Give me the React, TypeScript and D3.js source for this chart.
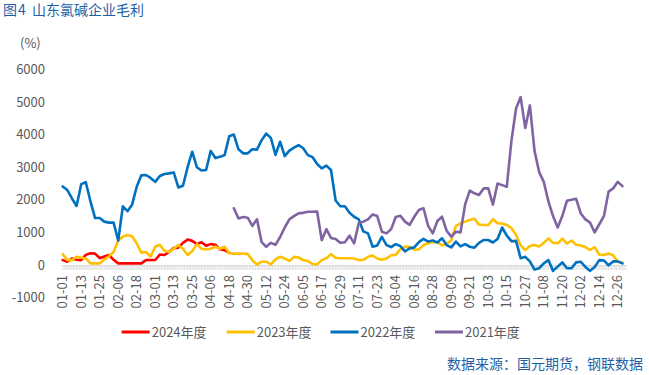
import React from "react";
import * as d3 from "d3";

// ---- data ----
const categories: string[] = d3
  .timeDay.range(new Date(2024, 0, 1), new Date(2025, 0, 1))
  .map(d3.timeFormat("%m-%d"));
const tickEvery = 12;
const tickLabels = categories.filter((_, i) => i % tickEvery === 0);
const yTicks = [-1000, 0, 1000, 2000, 3000, 4000, 5000, 6000];
const dayStep = 3;

const values2024 = [
  150, 100, 200, 160, 150, 310, 360, 350, 210, 260, 307, 160, 50, 50, 50, 50,
  50, 50, 150, 153, 153, 320, 307, 400, 520, 530, 680, 780, 740, 640, 700, 590,
  640, 620, 480, 450, 380,
];
const values2023 = [
  330, 150, 150, 255, 220, 200, 50, 50, 50, 170, 270, 400, 750, 870, 920, 880,
  665, 380, 400, 260, 560, 620, 430, 400, 500, 610, 500, 307, 420, 640, 500, 480,
  500, 560, 500, 560, 360, 350, 350, 350, 340, 150, 10, 100, 100, 20, 170, 255,
  200, 120, 250, 230, 150, 120, 30, 20, 150, 205, 330, 220, 205, 205, 205, 200,
  150, 160, 250, 290, 200, 160, 200, 300, 310, 480, 560, 560, 470, 480, 610, 665,
  700, 700, 600, 650, 750, 1200, 1280, 1330, 1380, 1420, 1240, 1227, 1227, 1400,
  1280, 1270, 1230, 1130, 930, 600, 460, 580, 610, 570, 680, 817, 680, 665, 810,
  660, 750, 620, 600, 550, 460, 550, 320, 307, 350, 300, 100, 70,
];
const values2022 = [
  2410, 2300, 2040, 1810, 2480, 2540, 1950, 1440, 1440, 1330, 1300, 1300, 750,
  1800, 1650, 1850, 2400, 2750, 2760, 2670, 2550, 2730, 2790, 2810, 2840, 2380,
  2430, 3000, 3475, 3000, 2900, 2915, 3500, 3280, 3320, 3370, 3950, 4000, 3550,
  3425, 3425, 3550, 3540, 3830, 4030, 3900, 3380, 3780, 3340, 3510, 3600, 3680,
  3580, 3370, 3310, 3100, 2965, 3050, 2915, 1980, 1800, 1800, 1600, 1480, 1400,
  1030, 970, 560, 600, 860, 610, 550, 640, 580, 420, 510, 540, 700, 800, 720, 750,
  690, 820, 610, 540, 720, 570, 640, 560, 530, 680, 767, 767, 690, 800, 1150, 900,
  730, 740, 210, 250, 110, -140, -100, 50, 150, -180, -50, 80, -100, -100, 80, 100,
  -60, -180, -60, 150, 140, -10, 110, 110, 50,
];
const values2021 = [
  1740, 1430, 1470, 1450, 1200, 1400, 700, 560, 680, 620, 860, 1150, 1400, 1500,
  1585, 1600, 1635, 1635, 1640, 760, 1100, 830, 800, 680, 700, 900, 665, 1280,
  1330, 1400, 1550, 1500, 1020, 970, 1100, 1470, 1510, 1330, 1230, 1480, 1690,
  1740, 1200, 970, 1350, 1480, 1050, 870, 1020, 1000, 1860, 2280, 2200, 2150, 2350,
  2350, 1850, 2500, 2450, 2400, 3800, 4800, 5150, 4200, 4900, 3500, 2850, 2550,
  1950, 1500, 1150, 1500, 1970, 2000, 2030, 1580, 1400, 1300, 1000, 1250, 1500,
  2250, 2350, 2550, 2420,
];

const seriesNames = ["2024年度", "2023年度", "2022年度", "2021年度"];
const seriesStarts = ["01-01", "01-01", "01-01", "04-21"];
const seriesValues = [values2024, values2023, values2022, values2021];
const seriesColors = ["#FF0000", "#FFC000", "#0070C0", "#8064A2"];

const FONT = "'Microsoft YaHei', 'Noto Sans CJK SC', 'Noto Sans', sans-serif";

export default function App() {
  const W = 649;
  const H = 375;
  const x = d3.scalePoint<string>().domain(categories).range([62.7, 625.5]);
  const y = d3.scaleLinear().domain([-1000, 6000]).range([297.6, 69.4]);

  const series = seriesNames.map((name, si) => {
    const start = categories.indexOf(seriesStarts[si]);
    const pts = seriesValues[si].map((v, i) => ({
      cat: categories[Math.min(start + i * dayStep, categories.length - 1)],
      v,
    }));
    return { name, color: seriesColors[si], pts };
  });

  const line = d3
    .line<{ cat: string; v: number }>()
    .x((d) => x(d.cat) as number)
    .y((d) => y(d.v));

  const y0 = y(0);
  const legendX = [121.7, 226.7, 330.5, 435];

  return (
    <svg
      width={W}
      height={H}
      style={{ position: "fixed", left: 0, top: 0, background: "#fff" }}
      fontFamily={FONT}
    >
      <text y={15} fontSize={14} fill="#1F5FA8">
        <tspan x={3}>图</tspan>
        <tspan x={18}>4</tspan>
        <tspan x={32}>山东氯碱企业毛利</tspan>
      </text>
      <text x={20} y={48} fontSize={13} fill="#595959">
        (%)
      </text>
      {yTicks.map((t) => (
        <text
          key={t}
          x={45}
          y={y(t)}
          dy="0.35em"
          textAnchor="end"
          fontSize={13}
          fill="#595959"
        >
          {t}
        </text>
      ))}
      {/* category axis */}
      <line x1={61.9} x2={626.3} y1={y0 + 0.5} y2={y0 + 0.5} stroke="#D9D9D9" />
      {categories.map((c) => (
        <line
          key={c}
          x1={x(c)}
          x2={x(c)}
          y1={y0}
          y2={y0 + 5}
          stroke="#D9D9D9"
          strokeWidth={0.8}
        />
      ))}
      {tickLabels.map((c) => (
        <text
          key={c}
          transform={`translate(${x(c)},275) rotate(-90)`}
          dy="0.35em"
          textAnchor="end"
          fontSize={13}
          fill="#595959"
        >
          {c}
        </text>
      ))}
      {series.map((s) => (
        <path
          key={s.name}
          d={line(s.pts) || ""}
          fill="none"
          stroke={s.color}
          strokeWidth={2.6}
          strokeLinejoin="round"
          strokeLinecap="round"
        />
      ))}
      {series.map((s, i) => (
        <g key={s.name} transform={`translate(${legendX[i]},332)`}>
          <line x1={0} x2={28} y1={0} y2={0} stroke={s.color} strokeWidth={3} />
          <text x={30} y={0} dy="0.35em" fontSize={13} fill="#595959">
            {s.name}
          </text>
        </g>
      ))}
      <text x={643} y={364} dy="0.35em" textAnchor="end" fontSize={14} fill="#1F5FA8">
        数据来源：国元期货，钢联数据
      </text>
    </svg>
  );
}
